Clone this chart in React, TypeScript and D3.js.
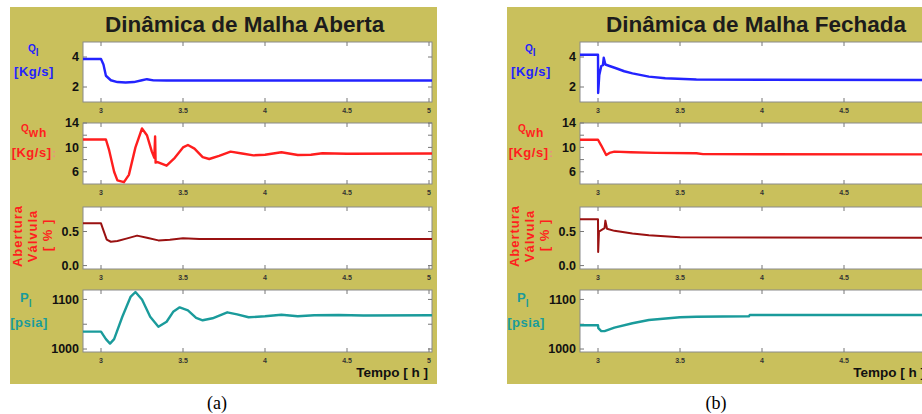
import React from "react";
import * as d3 from "d3";

// time axis [h]
const xTicks = [3, 3.5, 4, 4.5, 5];
const xTickLabels = ["3", "3.5", "4", "4.5", "5"];

// y ticks of the four subplots
const qlTicks = [2, 4];
const qlTickLabels = ["2", "4"];
const qwhTicks = [6, 8, 10, 12, 14];
const qwhTickLabels = ["6", "", "10", "", "14"];
const valveTicks = [0, 0.5];
const valveTickLabels = ["0.0", "0.5"];
const plTicks = [1000, 1050, 1100];
const plTickLabels = ["1000", "", "1100"];

// (a) open loop
const qlOpenT = [2.89, 3.0, 3.015, 3.03, 3.06, 3.1, 3.15, 3.2, 3.25, 3.28, 3.32, 3.4, 5.02];
const qlOpen = [3.87, 3.87, 3.5, 2.75, 2.45, 2.33, 2.3, 2.33, 2.45, 2.52, 2.44, 2.43, 2.43];
const qwhOpenT = [2.89, 3.03, 3.05, 3.08, 3.1, 3.14, 3.17, 3.21, 3.25, 3.28, 3.31, 3.325, 3.33, 3.333, 3.345, 3.4, 3.45, 3.5, 3.53, 3.57, 3.62, 3.66, 3.72, 3.79, 3.86, 3.93, 4.0, 4.1, 4.2, 4.28, 4.35, 4.5, 5.02];
const qwhOpen = [11.3, 11.3, 9.5, 6.0, 4.6, 4.3, 5.5, 10.0, 13.1, 12.0, 9.3, 8.3, 11.8, 7.5, 7.6, 7.0, 8.3, 10.0, 10.4, 9.8, 8.4, 8.1, 8.6, 9.3, 9.0, 8.7, 8.8, 9.2, 8.75, 8.8, 9.05, 8.95, 9.0];
const valveOpenT = [2.89, 3.0, 3.01, 3.035, 3.06, 3.1, 3.16, 3.22, 3.28, 3.35, 3.42, 3.5, 3.6, 5.02];
const valveOpen = [0.62, 0.62, 0.55, 0.38, 0.35, 0.36, 0.4, 0.44, 0.41, 0.37, 0.38, 0.4, 0.39, 0.39];
const plOpenT = [2.89, 3.0, 3.03, 3.055, 3.08, 3.13, 3.18, 3.21, 3.25, 3.3, 3.35, 3.4, 3.44, 3.48, 3.53, 3.58, 3.62, 3.68, 3.77, 3.83, 3.9, 4.0, 4.1, 4.2, 4.3, 4.45, 4.6, 5.02];
const plOpen = [1035, 1035, 1020, 1011, 1020, 1065, 1105, 1115, 1100, 1065, 1045, 1055, 1075, 1084, 1078, 1063, 1058, 1062, 1074, 1070, 1064, 1066, 1069, 1066, 1068, 1068.5, 1067.5, 1068];

// (b) closed loop
const qlClosedT = [2.89, 3.0, 3.001, 3.008, 3.02, 3.03, 3.035, 3.045, 3.07, 3.11, 3.16, 3.21, 3.31, 3.41, 3.6, 4.0, 5.02];
const qlClosed = [4.15, 4.15, 1.6, 2.8, 3.4, 3.45, 3.95, 3.5, 3.4, 3.25, 3.05, 2.91, 2.69, 2.58, 2.5, 2.48, 2.47];
const qwhClosedT = [2.89, 3.0, 3.02, 3.05, 3.07, 3.1, 3.2, 3.35, 3.6, 3.64, 5.02];
const qwhClosed = [11.25, 11.25, 10.3, 8.75, 9.1, 9.3, 9.2, 9.1, 9.05, 8.9, 8.85];
const valveClosedT = [2.89, 3.0, 3.001, 3.006, 3.02, 3.04, 3.045, 3.055, 3.1, 3.21, 3.31, 3.5, 5.02];
const valveClosed = [0.68, 0.68, 0.2, 0.5, 0.52, 0.55, 0.66, 0.54, 0.51, 0.47, 0.445, 0.415, 0.41];
const plClosedT = [2.89, 3.0, 3.002, 3.02, 3.04, 3.1, 3.21, 3.31, 3.5, 3.6, 3.92, 3.925, 5.02];
const plClosed = [1048, 1048, 1042, 1036, 1036, 1043, 1052, 1058.5, 1064, 1065, 1066, 1068.5, 1068.5];

const W = 922;
const H = 414;
const OLIVE = "#c9c05c";
const SANS = "'Liberation Sans', Arial, sans-serif";
const plotX0 = 83;
const plotX1 = 432;
const x = d3.scaleLinear().domain([3, 5]).range([101, 429]);

const rows = [
  { y0: 42, y1: 102, domain: [1, 5], ticks: qlTicks, labels: qlTickLabels, color: "#2323ff", width: 2.4 },
  { y0: 123, y1: 184, domain: [4, 14], ticks: qwhTicks, labels: qwhTickLabels, color: "#ff1e1e", width: 2.4 },
  { y0: 207, y1: 269, domain: [-0.05, 0.86], ticks: valveTicks, labels: valveTickLabels, color: "#9a1111", width: 2 },
  { y0: 290, y1: 352, domain: [994, 1119], ticks: plTicks, labels: plTickLabels, color: "#1a9b9b", width: 2.4 },
];

const YLabels = () => (
  <g fontFamily={SANS} fontWeight="bold">
    <text x={28} y={52} fill="#2323ff" fontSize={10}>
      Q<tspan dy={4} fontSize={10}>l</tspan>
    </text>
    <text x={34} y={76} fill="#2323ff" fontSize={13} textAnchor="middle" letterSpacing={0.5}>[Kg/s]</text>

    <text x={21} y={132} fill="#ff1e1e" fontSize={10}>
      Q<tspan dy={5} fontSize={12} letterSpacing={1}>wh</tspan>
    </text>
    <text x={34} y={157} fill="#ff1e1e" fontSize={13} textAnchor="middle" letterSpacing={0.5}>
      [Kg/s]<tspan fill="#e88" fontSize={10} dx={1}>:</tspan>
    </text>

    <g fill="#ff1e1e" fontSize={13} textAnchor="middle" letterSpacing={1}>
      <text transform="translate(22,236) rotate(-90)">Abertura</text>
      <text transform="translate(37,236) rotate(-90)">Válvula</text>
      <text transform="translate(52,235) rotate(-90)">[ % ]</text>
    </g>

    <text x={20} y={302} fill="#1a9b9b" fontSize={13}>
      P<tspan dy={5} fontSize={10}>l</tspan>
    </text>
    <text x={29} y={327} fill="#1a9b9b" fontSize={13} textAnchor="middle" letterSpacing={0.5}>[psia]</text>
  </g>
);

function Panel({ dx, id, title, titleX, series, caption, captionX }) {
  // tick labels that would fall outside the window are not drawn
  const visible = (t) => x(t) + dx + 4 < W;
  return (
    <g transform={`translate(${dx},0)`}>
      <rect x={10} y={7} width={427} height={377} fill={OLIVE} />
      <text x={titleX} y={32} fontFamily={SANS} fontWeight="bold" fontSize={22.5} fill="#1c1c1c">
        {title}
      </text>
      <YLabels />
      {rows.map((r, i) => {
        const y = d3.scaleLinear().domain(r.domain).range([r.y1, r.y0]);
        const s = series[i];
        const line = d3
          .line<number>()
          .x((t) => x(t))
          .y((_, k) => y(s.v[k]));
        const cid = `${id}-clip-${i}`;
        return (
          <g key={i}>
            <clipPath id={cid}>
              <rect x={plotX0} y={r.y0} width={plotX1 - plotX0} height={r.y1 - r.y0} />
            </clipPath>
            <rect x={plotX0} y={r.y0} width={plotX1 - plotX0} height={r.y1 - r.y0} fill="#fff" stroke="#8a8a8a" strokeWidth={1} />
            {xTicks.map((t, k) => (
              <g key={k} stroke="#777" strokeWidth={1}>
                <line x1={x(t)} x2={x(t)} y1={r.y0} y2={r.y0 + 4} />
                <line x1={x(t)} x2={x(t)} y1={r.y1} y2={r.y1 - 4} />
              </g>
            ))}
            {xTicks.filter(visible).map((t, k) => (
              <text key={k} x={x(t)} y={r.y1 + 11} fontFamily={SANS} fontWeight="bold" fontSize={7} fill="#333" textAnchor="middle">
                {xTickLabels[xTicks.indexOf(t)]}
              </text>
            ))}
            {r.ticks.map((t, k) => (
              <g key={k} stroke="#777" strokeWidth={1}>
                <line x1={plotX0} x2={plotX0 + 4} y1={y(t)} y2={y(t)} />
                <line x1={plotX1} x2={plotX1 - 4} y1={y(t)} y2={y(t)} />
              </g>
            ))}
            {r.ticks.map((t, k) => (
              <text key={k} x={79} y={y(t)} dy="0.35em" fontFamily={SANS} fontWeight="bold" fontSize={12.5} fill="#111" textAnchor="end">
                {r.labels[k]}
              </text>
            ))}
            <path
              d={line(s.t) || ""}
              fill="none"
              stroke={r.color}
              strokeWidth={r.width}
              strokeLinejoin="round"
              clipPath={`url(#${cid})`}
            />
          </g>
        );
      })}
      <text x={428} y={377} fontFamily={SANS} fontWeight="bold" fontSize={13.5} fill="#111" textAnchor="end">
        Tempo [ h ]
      </text>
      <text x={captionX} y={409} fontFamily="'Liberation Serif', 'Times New Roman', serif" fontSize={18} fill="#000" textAnchor="middle">
        {caption}
      </text>
    </g>
  );
}

export default function App() {
  const open = [
    { t: qlOpenT, v: qlOpen },
    { t: qwhOpenT, v: qwhOpen },
    { t: valveOpenT, v: valveOpen },
    { t: plOpenT, v: plOpen },
  ];
  const closed = [
    { t: qlClosedT, v: qlClosed },
    { t: qwhClosedT, v: qwhClosed },
    { t: valveClosedT, v: valveClosed },
    { t: plClosedT, v: plClosed },
  ];
  return (
    <svg width={W} height={H} style={{ position: "fixed", left: 0, top: 0, background: "#fff" }}>
      <Panel dx={0} id="a" title="Dinâmica de Malha Aberta" titleX={105} series={open} caption="(a)" captionX={217} />
      <Panel dx={497} id="b" title="Dinâmica de Malha Fechada" titleX={109} series={closed} caption="(b)" captionX={219} />
    </svg>
  );
}
